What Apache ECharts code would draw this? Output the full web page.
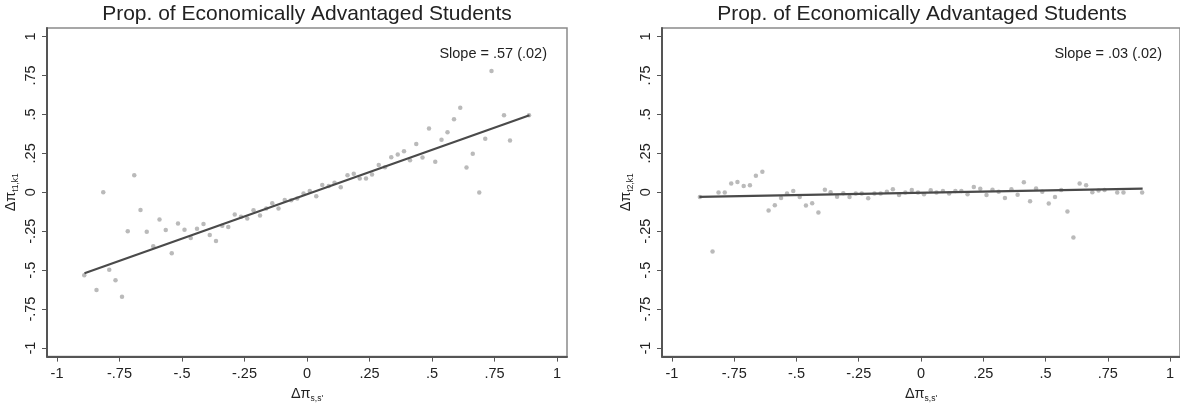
<!DOCTYPE html>
<html>
<head>
<meta charset="utf-8">
<script src="https://cdn.jsdelivr.net/npm/echarts@6/dist/echarts.min.js"></script>
<style>
  html, body { margin: 0; padding: 0; background: #fff; }
  #main { width: 1180px; height: 408px; }
</style>
</head>
<body>
<div id="main"></div>
<script>
// tick values and their Stata-style labels (same on both axes)
var tickValues = [-1, -0.75, -0.5, -0.25, 0, 0.25, 0.5, 0.75, 1];
var tickLabels = ['-1', '-.75', '-.5', '-.25', '0', '.25', '.5', '.75', '1'];

var titleText = 'Prop. of Economically Advantaged Students';
var slopeLeft = 'Slope = .57 (.02)';
var slopeRight = 'Slope = .03 (.02)';

// binned points, left panel
var leftPoints = [
  [-0.891, -0.533], [-0.842, -0.628], [-0.815, 0.000], [-0.791, -0.497], [-0.766, -0.565],
  [-0.740, -0.671], [-0.717, -0.250], [-0.691, 0.110], [-0.666, -0.113], [-0.641, -0.253],
  [-0.615, -0.346], [-0.590, -0.174], [-0.565, -0.242], [-0.541, -0.391], [-0.516, -0.200],
  [-0.490, -0.240], [-0.465, -0.293], [-0.440, -0.234], [-0.414, -0.204], [-0.389, -0.274],
  [-0.364, -0.312], [-0.339, -0.214], [-0.315, -0.223], [-0.289, -0.142], [-0.264, -0.157],
  [-0.239, -0.168], [-0.214, -0.115], [-0.188, -0.149], [-0.163, -0.104], [-0.139, -0.070],
  [-0.114, -0.104], [-0.089, -0.049], [-0.063, -0.051], [-0.039, -0.040], [-0.014, -0.008],
  [0.011, 0.008], [0.037, -0.025], [0.061, 0.047], [0.087, 0.040], [0.110, 0.062],
  [0.135, 0.032], [0.162, 0.110], [0.187, 0.119], [0.211, 0.089], [0.236, 0.089],
  [0.260, 0.115], [0.287, 0.176], [0.312, 0.161], [0.337, 0.225], [0.363, 0.242],
  [0.388, 0.263], [0.412, 0.206], [0.437, 0.310], [0.462, 0.223], [0.488, 0.410],
  [0.513, 0.196], [0.538, 0.338], [0.562, 0.386], [0.588, 0.469], [0.613, 0.543],
  [0.638, 0.159], [0.663, 0.248], [0.689, -0.002], [0.713, 0.344], [0.738, 0.779],
  [0.788, 0.495], [0.812, 0.333], [0.888, 0.495]
];
var leftFit = [[-0.89, -0.52], [0.89, 0.495]];

// binned points, right panel
var rightPoints = [
  [-0.888, -0.030], [-0.837, -0.380], [-0.813, -0.002], [-0.788, -0.002], [-0.762, 0.057],
  [-0.737, 0.066], [-0.712, 0.040], [-0.687, 0.045], [-0.663, 0.106], [-0.637, 0.132],
  [-0.612, -0.117], [-0.587, -0.083], [-0.562, -0.036], [-0.538, -0.008], [-0.513, 0.008],
  [-0.487, -0.030], [-0.462, -0.085], [-0.437, -0.070], [-0.412, -0.129], [-0.386, 0.017],
  [-0.363, 0.000], [-0.337, -0.028], [-0.312, -0.006], [-0.287, -0.030], [-0.262, -0.008],
  [-0.238, -0.008], [-0.212, -0.038], [-0.187, -0.008], [-0.162, -0.008], [-0.137, 0.004],
  [-0.113, 0.019], [-0.088, -0.017], [-0.063, -0.002], [-0.037, 0.015], [-0.012, -0.002],
  [0.012, -0.013], [0.039, 0.013], [0.062, -0.002], [0.088, 0.008], [0.113, -0.008],
  [0.138, 0.008], [0.162, 0.008], [0.187, -0.013], [0.212, 0.034], [0.238, 0.023],
  [0.263, -0.017], [0.287, 0.017], [0.312, 0.004], [0.337, -0.036], [0.363, 0.019],
  [0.388, -0.015], [0.413, 0.064], [0.438, -0.057], [0.462, 0.025], [0.487, 0.004],
  [0.513, -0.072], [0.538, -0.030], [0.563, 0.015], [0.588, -0.123], [0.612, -0.291],
  [0.637, 0.057], [0.663, 0.045], [0.688, 0.000], [0.713, 0.011], [0.737, 0.015],
  [0.788, -0.002], [0.813, -0.002], [0.888, -0.002]
];
var rightFit = [[-0.89, -0.03], [0.89, 0.023]];

var chart = echarts.init(document.getElementById('main'));
var font = '"Liberation Sans", Arial, Helvetica, sans-serif';

function tickText(v) {
  for (var i = 0; i < tickValues.length; i++) {
    if (Math.abs(tickValues[i] - v) < 1e-6) return tickLabels[i];
  }
  return '';
}

var nameRich = {
  a: { fontFamily: font, fontSize: 14.5, color: '#222' },
  s: { fontFamily: font, fontSize: 8.5, color: '#222', padding: [9, 0, 0, 0] }
};

function xAxisFor(idx) {
  return {
    type: 'value', gridIndex: idx, min: -1.04, max: 1.04,
    name: '{a|Δπ}{s|s,s\'}',
    nameLocation: 'middle', nameGap: 27,
    nameTextStyle: { rich: nameRich },
    axisLine: { show: true, onZero: false, lineStyle: { color: '#555', width: 2 } },
    axisTick: { show: true, customValues: tickValues, length: 5, lineStyle: { color: '#555' } },
    axisLabel: { customValues: tickValues, formatter: tickText, fontFamily: font, fontSize: 14.5, color: '#222', margin: 10 },
    splitLine: { show: false }
  };
}

function yAxisFor(idx, sub) {
  return {
    type: 'value', gridIndex: idx, min: -1.055, max: 1.055,
    name: '{a|Δπ}{s|' + sub + '}',
    nameLocation: 'middle', nameGap: 27, nameRotate: 90,
    nameTextStyle: { rich: nameRich },
    axisLine: { show: true, onZero: false, lineStyle: { color: '#555', width: 2 } },
    axisTick: { show: true, customValues: tickValues, length: 5, lineStyle: { color: '#555' } },
    axisLabel: { customValues: tickValues, formatter: tickText, rotate: 90, fontFamily: font, fontSize: 14.5, color: '#222', margin: 9 },
    splitLine: { show: false }
  };
}

function pointSeries(idx, data) {
  return {
    type: 'scatter', xAxisIndex: idx, yAxisIndex: idx, data: data,
    symbol: 'circle', symbolSize: 4.5,
    itemStyle: { color: '#a9a9a9' }, silent: true
  };
}

function fitSeries(idx, data) {
  return {
    type: 'line', xAxisIndex: idx, yAxisIndex: idx, data: data,
    symbol: 'none', lineStyle: { color: '#4a4a4a', width: 2.2 }, silent: true, z: 3
  };
}

var titleStyle = { fontFamily: font, fontSize: 21, fontWeight: 'normal', color: '#222' };
var slopeStyle = { fontFamily: font, fontSize: 14.5, fontWeight: 'normal', color: '#222' };

chart.setOption({
  animation: false,
  backgroundColor: '#fff',
  title: [
    { text: titleText, left: 307, top: 4, padding: 0, textAlign: 'center', textStyle: titleStyle },
    { text: titleText, left: 922, top: 4, padding: 0, textAlign: 'center', textStyle: titleStyle },
    { text: slopeLeft, right: 633, top: 46, padding: 0, textStyle: slopeStyle },
    { text: slopeRight, right: 18, top: 46, padding: 0, textStyle: slopeStyle }
  ],
  grid: [
    { left: 47, top: 28, width: 520, height: 331, show: true, borderColor: '#8a8a8a', borderWidth: 1.5, backgroundColor: '#fff' },
    { left: 662, top: 28, width: 520, height: 331, show: true, borderColor: '#8a8a8a', borderWidth: 1.5, backgroundColor: '#fff' }
  ],
  xAxis: [xAxisFor(0), xAxisFor(1)],
  yAxis: [yAxisFor(0, 't1,k1'), yAxisFor(1, 't2,k1')],
  series: [
    pointSeries(0, leftPoints),
    fitSeries(0, leftFit),
    pointSeries(1, rightPoints),
    fitSeries(1, rightFit)
  ]
});
</script>
</body>
</html>
